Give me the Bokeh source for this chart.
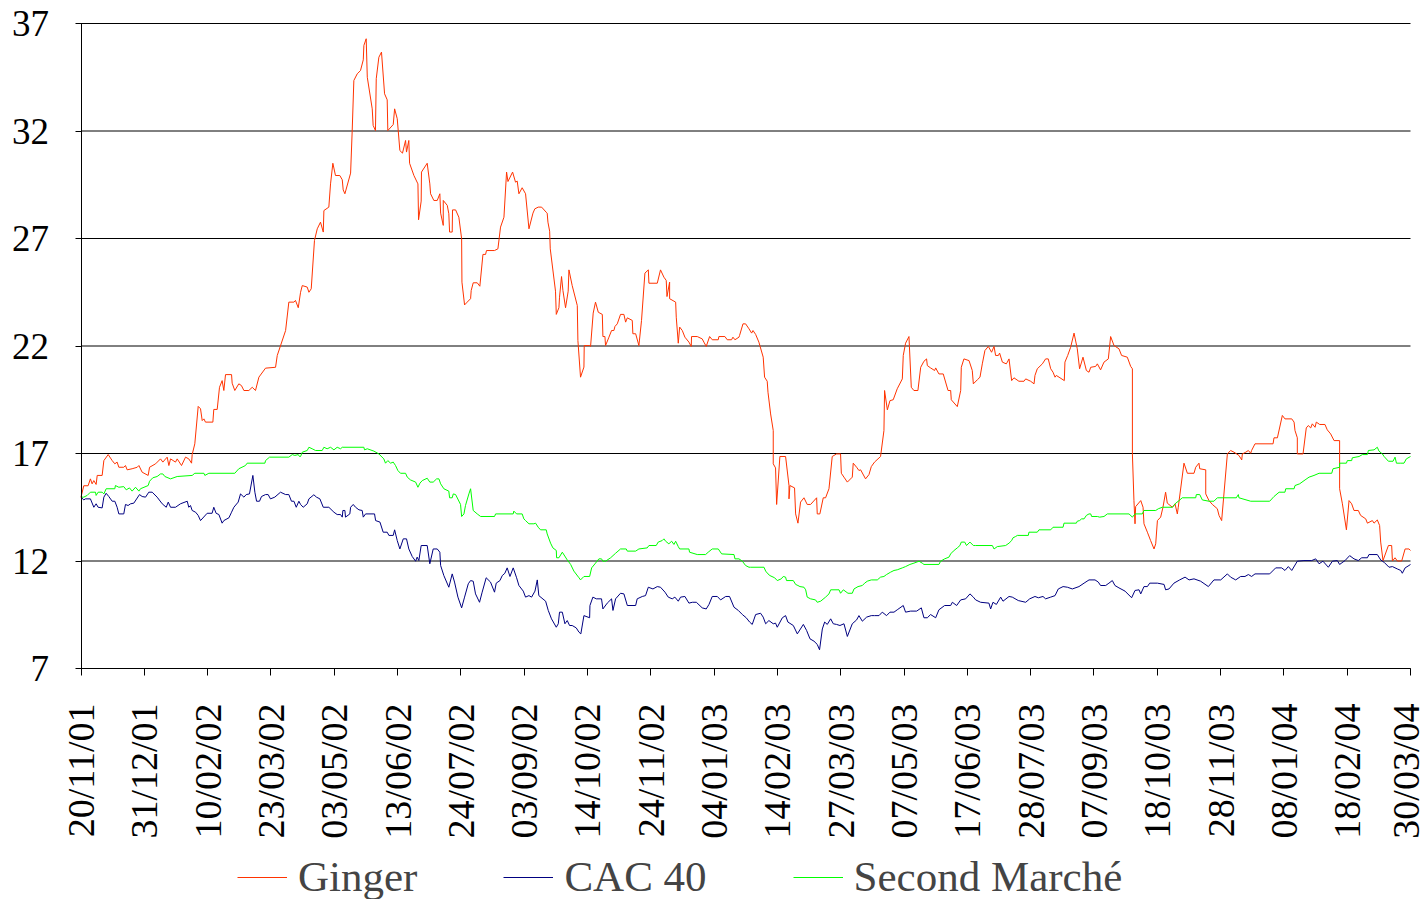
import math
import pandas as pd
from bokeh.plotting import figure
from bokeh.models import (Range1d, FixedTicker, DatetimeTickFormatter, Legend, LegendItem)
from bokeh.embed import file_html
from bokeh.resources import INLINE

# ---------------- data ----------------
tick_labels = ["20/11/01", "31/12/01", "10/02/02", "23/03/02", "03/05/02", "13/06/02",
               "24/07/02", "03/09/02", "14/10/02", "24/11/02", "04/01/03", "14/02/03",
               "27/03/03", "07/05/03", "17/06/03", "28/07/03", "07/09/03", "18/10/03",
               "28/11/03", "08/01/04", "18/02/04", "30/03/04"]
y_ticks = [7, 12, 17, 22, 27, 32, 37]
series_names = ["Ginger", "CAC 40", "Second Marché"]

# days elapsed since 20/11/01, and values
ginger_day = [0, 1.8, 4.6, 6.1, 7.2, 8.3, 9.8, 10.5, 13.7, 14.8, 17.6, 20.2, 21.9, 23.4, 24.5, 27.7,
              28.8, 29.9, 33.1, 36.4, 37.5, 39.6, 43.5, 44.4, 48.3, 51.5, 53.0, 55.8, 56.9, 58.0,
              61.2, 62.3, 65.1, 67.7, 69.8, 71.6, 72.0, 73.7, 75.9, 77.4, 78.5, 79.6, 80.6, 85.4,
              86.0, 88.2, 89.7, 91.4, 92.5, 93.6, 97.5, 97.9, 99.6, 102.2, 103.9, 105.5, 108.7,
              110.9, 113.0, 115.2, 119.5, 126.0, 127.1, 132.5, 134.6, 137.9, 138.9, 140.7,
              142.2, 143.3, 146.5, 147.6, 149.1, 151.2, 153.0, 155.1, 156.9, 157.3, 160.5, 161.6,
              163.1, 164.8, 167.6, 169.2, 169.8, 170.9, 174.6, 175.6, 176.7, 178.9, 181.0, 182.8,
              183.2, 184.7, 185.4, 188.6, 189.2, 190.7, 191.2, 192.9, 194.6, 196.6, 198.3, 198.7,
              202.2, 203.1, 204.8, 206.5, 208.2, 210.2, 210.8, 212.3, 212.8, 215.6, 218.2, 218.6,
              220.3, 220.5, 224.2, 225.9, 226.4, 228.5, 230.7, 232.4, 232.9, 234.6, 234.6, 237.2,
              238.2, 238.7, 240.4, 240.6, 242.6, 244.7, 246.5, 246.7, 248.4, 250.1, 252.3, 252.7,
              254.0, 256.6, 258.3, 260.3, 262.0, 262.6, 267.8, 270.0, 271.7, 273.9, 275.6, 276.5,
              279.5, 281.4, 282.5, 283.6, 285.7, 287.9,
              290.1, 292.7, 293.9, 296.1, 298.3, 301.3, 301.9, 302.4, 303.5, 303.9, 307.3, 307.8,
              309.5, 309.9, 311.2, 312.1, 313.8, 315.5, 316.0, 318.1, 321.4, 321.8, 323.5, 325.7,
              325.9, 329.4, 330.0, 331.7, 333.2, 335.0, 337.6, 338.0, 339.3, 339.7, 341.9, 343.6,
              345.1, 345.8, 347.3, 349.4, 351.6, 352.7, 353.8, 357.0, 357.4, 359.2, 361.3, 363.0,
              365.2, 367.4, 367.8, 373.2, 375.3, 377.5, 379.0, 379.5, 381.2, 381.2, 385.1, 385.5,
              386.8, 387.7, 389.4, 391.1, 393.7, 395.2, 395.4, 399.1, 402.3, 403.4, 404.9, 407.1,
              408.8, 412.7, 413.1, 417.0, 418.5, 421.3, 422.2, 423.5, 426.1, 426.5, 428.7, 430.4,
              432.6, 434.3, 435.2, 436.9, 439.0,
              441.8, 442.7, 444.4, 444.9, 446.6, 448.3, 448.3, 449.8, 450.5, 452.6, 456.3, 458.5,
              458.5, 459.1, 462.1, 462.8, 464.3, 466.0, 468.2, 470.3, 472.5, 476.4, 476.8, 478.5,
              480.7, 482.2, 484.4, 486.5, 489.3, 491.9, 492.4, 494.1, 496.3, 499.5, 500.1, 502.3,
              503.8, 504.9, 508.1, 510.3, 511.8, 513.9, 517.8, 520.0, 520.4, 522.2, 523.9, 526.0,
              528.6, 531.9, 532.5, 534.0, 536.2, 537.7, 539.4, 542.0, 543.8, 545.9, 547.6, 548.1,
              550.2, 552.8, 553.5, 555.6, 558.4, 561.5, 563.2, 563.6, 567.5, 569.7, 570.1, 571.8,
              575.1, 577.2, 577.9, 580.5, 582.2, 583.7,
              585.4, 587.6, 589.7, 591.3, 592.3, 594.1, 594.9, 596.7, 599.2, 599.9, 601.0, 602.7,
              604.2, 607.4, 610.7, 611.8, 615.0, 617.2, 617.8, 619.3, 622.6, 624.7, 626.4, 628.0,
              629.5, 630.8, 631.6, 633.4, 636.8, 637.2, 639.0, 640.9, 643.1, 645.2, 646.7, 648.9,
              651.1, 652.8, 653.9, 657.1, 658.2, 660.3, 662.5, 665.3, 666.8, 669.0, 672.2, 673.9,
              677.6, 679.8, 680.9, 680.9, 681.9, 682.6, 683.0, 686.3, 687.8, 688.4, 690.6, 692.7,
              694.9, 696.0, 697.1, 699.2, 700.7, 702.4, 703.5, 706.8, 708.5, 710.0, 710.6, 714.3,
              716.5, 720.8, 721.9, 724.0, 724.5,
              728.4, 728.4, 730.5, 732.7, 735.9, 737.0, 738.7, 742.4, 744.5, 746.7, 749.9, 751.7,
              752.1, 754.3, 756.0, 757.5, 758.1, 760.3, 772.0, 772.6, 774.8, 778.0, 779.7, 784.1,
              785.6, 786.2, 787.7, 787.7, 791.4, 793.5, 794.8, 796.4, 797.4, 799.2, 800.0, 802.2,
              805.6, 807.1, 809.3, 811.5, 815.1, 815.1, 816.9, 819.5, 821.2, 822.9, 824.4, 827.2,
              828.7, 832.0, 833.1, 836.3, 837.4, 839.5, 841.0, 841.7, 843.2, 846.7, 848.8, 849.3,
              851.0, 852.5, 855.3, 857.5, 860.0, 861.0]
ginger_val = [14.97, 15.5, 15.5, 15.82, 15.59, 15.74, 15.56, 15.98, 15.98, 16.67, 16.95, 16.67, 16.52,
              16.6, 16.36, 16.36, 16.44, 16.24, 16.29, 16.36, 16.44, 16.13, 15.98, 16.36, 16.52,
              16.75, 16.6, 16.83, 16.44, 16.75, 16.6, 16.75, 16.44, 16.83, 16.75, 16.55, 16.95,
              17.45, 19.19, 19.08, 18.53, 18.61, 18.46, 18.46, 19.05, 19.05, 20.08, 20.39, 19.93,
              20.67, 20.67, 20.27, 19.93, 20.24, 20.16, 19.93, 19.93, 20.08, 19.93, 20.55, 20.97,
              21.01, 21.56, 22.72, 24.04, 24.04, 24.12, 23.78,
              24.5, 24.81, 24.74, 24.5, 24.66, 26.91, 27.45, 27.76, 27.3, 28.3, 28.46, 29.54, 30.5,
              29.93, 29.93, 29.73, 29.26, 29.08, 30.04, 31.95, 34.35, 34.66, 34.81, 35.31, 35.98,
              36.29, 34.5, 33.03, 32.26, 32.02, 34.43, 35.43, 35.67, 33.73, 33.45, 32.02, 32.3,
              33.03, 32.57, 31.09, 30.97, 31.56, 31.02, 31.56, 30.5, 29.93, 29.54, 27.87, 28.74,
              30.09, 30.5, 29.54, 29.08, 28.77, 28.77, 29.08, 28.18, 27.61, 28.77, 28.54, 28.15,
              27.3, 27.3, 28.33, 28.33, 27.99, 26.99, 24.97, 23.91, 24.04, 24.2, 24.58, 24.94,
              24.94, 24.78, 26.26, 26.26, 26.44, 26.44, 26.52, 27.53, 27.99, 30.09, 29.65, 30.09,
              29.62, 29.67, 29.08, 29.36, 29.08,
              27.45, 28.18, 28.38, 28.46, 28.46, 28.22, 28.18, 27.76, 27.34, 26.52, 24.55, 23.47,
              23.78, 24.27, 25.23, 24.58, 23.78, 24.55, 25.54, 24.81, 23.88, 22.26, 20.55, 21.02,
              22.02, 22.02, 21.98, 23.53, 24.04, 23.57, 23.47, 22.44, 22.44, 22.02, 22.41, 22.72,
              22.72, 22.91, 23.03, 23.47, 23.47, 23.11, 23.31, 23.19, 22.57, 22.57, 22.02, 23.19,
              25.39, 25.54, 24.92, 24.92, 25.54, 25.2, 25.05, 24.3, 24.97, 24.2, 24.04, 23.34,
              22.13, 22.88, 22.72, 22.41, 22.18, 21.98, 22.44, 22.44, 22.33, 22.18, 21.98, 22.44,
              22.29, 22.29, 22.44, 22.44, 22.29, 22.29, 22.41, 22.29, 22.41, 22.49, 23.03, 23.03,
              22.8, 22.6, 22.72, 22.54, 22.18,
              21.48, 20.55, 20.36, 19.85, 18.84, 18.07, 16.52, 16.33, 14.63, 16.86, 16.86, 15.51,
              14.89, 15.51, 15.4, 14.19, 13.76, 14.74, 14.94, 14.63, 14.63, 14.94, 14.19, 14.19,
              14.94, 14.94, 15.36, 16.86, 16.98, 16.98, 16.08, 15.9, 15.67, 15.9, 16.55, 16.36,
              16.21, 16.24, 15.82, 16.02, 16.39, 16.6, 16.86, 18.07, 19.93, 19.03, 19.46, 19.5,
              20.01, 20.47, 21.56, 22.13, 22.44, 20.08, 19.93, 19.93, 21.01, 21.29, 21.4, 21.09,
              20.98, 20.86, 20.98, 20.7, 20.7, 19.93, 19.93, 19.5, 19.18, 19.93, 21.01, 21.4,
              21.32, 20.86, 20.24, 20.43, 20.55, 21.17,
              21.79, 21.98, 21.71, 21.98, 21.56, 21.56, 21.67, 21.25, 21.17, 21.25, 21.4, 20.39,
              20.52, 20.36, 20.36, 20.47, 20.36, 20.24, 20.63, 20.94, 21.17, 21.4, 21.4, 20.94,
              20.78, 20.55, 20.63, 20.55, 20.39, 21.25, 21.56, 21.94, 22.6, 21.87, 20.94, 21.48,
              20.86, 20.78, 21.01, 21.05, 21.17, 20.89, 21.25, 21.4, 22.44, 22.02, 21.87, 21.56,
              21.48, 21.05, 20.94, 16.98, 14.81, 13.73, 14.53, 14.81, 14.5, 13.73, 13.34, 12.95,
              12.56, 12.8, 13.88, 14.04, 14.5, 15.2, 14.69, 14.5, 14.66, 14.19, 14.5, 16.55,
              16.08, 16.08, 16.36, 16.55, 16.29,
              16.24, 15.12, 14.81, 14.63, 14.43, 14.12, 13.88, 16.98, 17.14, 17.06, 16.91, 16.7,
              16.98, 17.06, 17.14, 17.01, 17.14, 17.45, 17.45, 17.73, 17.73, 18.77, 18.61, 18.61,
              18.46, 18.07, 17.73, 16.98, 16.98, 18.19, 18.3, 18.19, 18.38, 18.22, 18.46, 18.35,
              18.35, 18.1, 17.91, 17.6, 17.6, 15.36, 14.66, 13.45, 14.81, 14.66, 14.35, 14.35,
              14.12, 13.96, 13.76, 13.88, 13.76, 13.91, 13.65, 12.88, 12.02, 12.72, 12.72, 12.0,
              12.15, 12.0, 12.0, 12.56, 12.56, 12.49]

cac_day = [0, 1.8, 2.9, 6.1, 8.3, 9.8, 11.1, 13.7, 14.8, 16.3, 18.0, 20.2, 21.9, 23.4, 24.5, 27.7,
           28.8, 30.5, 32.1, 34.2, 37.9, 39.6, 41.8, 43.9, 46.1, 49.3, 52.6, 55.2, 56.5, 58.0,
           61.2, 64.4, 68.8, 69.8, 70.9, 72.0, 74.2, 75.9, 77.4, 81.7, 84.9, 86.0, 87.5, 89.3,
           91.4, 92.5, 95.8, 97.5, 99.0, 101.8, 103.3, 105.5, 107.0, 109.1, 111.3, 112.6, 113.7,
           115.6, 116.9, 119.5, 121.2, 122.7, 125.5, 129.2, 132.5, 134.6, 136.3, 137.9, 139.4,
           141.1,
           142.2, 143.9, 146.5, 147.6, 150.8, 152.5, 154.7, 156.9, 160.5, 163.8, 165.9, 168.1,
           169.2, 169.6, 170.9, 171.3, 174.1, 174.6, 176.3, 177.8, 180.0, 182.1, 182.8, 184.3,
           190.1, 190.8, 193.6, 195.7, 198.3, 199.4, 202.2, 203.1, 204.8, 206.5, 208.7, 210.8,
           212.3, 214.5, 216.7, 217.7, 218.8, 220.3, 224.2, 225.9, 228.1, 230.7, 232.4, 232.9,
           235.0, 238.2, 240.4, 241.9, 244.1, 246.5, 248.4, 250.8, 252.3, 254.0, 255.5, 258.1,
           259.8, 262.4, 265.2, 267.8, 268.9, 271.3, 272.8, 274.5, 276.0, 277.8, 279.9, 282.1,
           283.6, 286.4,
           287.9, 290.1, 291.8, 294.0, 295.5, 296.5, 300.9, 302.6, 304.7, 307.8, 309.1, 309.9,
           311.7, 313.4, 314.9, 316.4, 318.1, 320.7, 322.5, 323.7, 325.7, 329.4, 329.6, 331.5,
           333.7, 337.1, 338.0, 340.8, 343.6, 344.5, 346.2, 349.4, 351.6, 353.8, 359.2, 360.2,
           363.5, 365.6, 367.4, 370.4, 373.2, 375.3, 378.2, 380.3, 382.9, 384.6, 386.8, 388.3,
           391.1, 393.7, 395.9, 398.5, 402.3, 404.9, 406.7, 408.8, 412.1, 414.2, 417.5, 420.0,
           422.9, 425.7, 428.3, 430.8, 433.0, 434.7,
           436.9, 440.1, 441.8, 443.4, 445.5, 448.3, 449.8, 450.9, 454.2, 456.3, 457.8, 461.3,
           463.9, 467.8, 469.9, 472.1, 474.7, 476.8, 478.3, 480.1, 481.6, 483.3, 485.5, 487.2,
           489.3, 491.5, 494.1, 496.3, 499.5, 502.3, 503.8, 506.0, 508.8, 511.8, 513.9, 516.8,
           518.9, 521.7, 523.9, 526.5, 528.6, 532.5, 534.0, 537.3, 541.2, 544.2, 545.9, 548.1,
           550.2, 553.5, 555.6, 559.3, 563.2, 564.3, 567.1, 569.7, 572.9, 575.7, 577.9,
           579.4, 582.6, 588.0, 589.1, 590.6, 592.8, 595.6, 597.1, 601.0, 603.1, 607.0, 611.8,
           614.4, 617.8, 620.0, 623.0, 624.7, 628.0, 630.8, 632.9, 636.0, 638.8, 642.0, 646.3,
           649.6, 652.8, 656.7, 658.8, 660.3, 663.6, 665.7, 667.9, 669.6, 672.2, 676.1, 680.4,
           682.6, 685.2, 686.3, 688.4, 690.6, 692.1, 697.1, 701.4, 702.4, 704.6, 707.8, 711.5,
           715.0, 717.6, 720.8,
           725.1, 730.1, 733.7, 738.1, 742.4, 744.5, 747.8, 751.0, 753.8, 756.0, 758.1, 760.3,
           769.8, 773.7, 777.6, 779.7, 781.9, 784.1, 787.7, 792.0, 797.0, 799.6, 801.8, 804.3,
           807.8, 810.4, 813.6, 815.1, 818.6, 821.6, 824.4, 827.2, 829.4, 833.1, 834.1, 839.5,
           841.7, 843.9, 847.1, 849.3, 852.5, 854.7, 855.7, 857.5, 860.0, 861.0]
cac_val = [14.97, 14.84, 14.89, 14.89, 14.5, 14.66, 14.5, 14.47, 14.97, 15.15, 15.0, 14.78, 14.78,
           14.5, 14.19, 14.19, 14.63, 14.58, 14.66, 14.69, 15.09, 15.0, 14.97, 15.2, 15.2, 14.97,
           14.66, 14.5, 14.74, 14.5, 14.5, 14.66, 14.78, 14.5, 14.58, 14.35, 14.27, 14.12, 13.88,
           14.22, 14.22, 14.5, 14.22, 14.16, 13.76, 13.88, 14.01, 14.27, 14.5, 14.74, 15.12,
           14.97, 15.09, 15.12, 15.98, 15.2, 14.78, 14.78, 15.0, 15.09, 15.09, 14.89, 14.97,
           15.2, 15.09, 15.09, 14.78, 14.78, 14.5, 14.78,
           14.63, 14.5, 14.66, 14.89, 15.08, 14.97, 14.89, 14.5, 14.5, 14.27, 14.16, 14.16,
           14.04, 14.35, 14.35, 14.04, 14.19, 14.5, 14.63, 14.5, 14.38, 14.35, 14.04, 14.19,
           14.19, 13.88, 13.81, 13.34, 13.34, 13.19, 13.19, 13.45, 12.95, 12.56, 13.03, 13.03,
           12.56, 12.21, 11.99, 12.18, 12.02, 12.72, 12.72, 11.87, 12.56, 12.56, 12.41, 11.79,
           11.32, 10.78, 11.4, 11.02, 10.32, 9.82, 10.32, 10.94, 11.09, 11.06, 10.47, 10.08,
           10.55, 11.22, 11.02, 10.55, 10.97, 11.09, 11.32, 11.43, 11.68, 11.28, 11.68, 11.22,
           10.86, 10.6,
           10.32, 10.39, 10.32, 10.6, 11.12, 10.39, 10.13, 9.7, 9.31, 8.92, 9.08, 9.62, 9.62,
           9.08, 9.23, 9.0, 9.0, 8.89, 8.69, 8.61, 9.46, 9.36, 9.93, 10.32, 10.24, 10.24, 9.77,
           10.04, 10.24, 9.7, 10.24, 10.5, 10.47, 9.93, 9.93, 10.24, 10.35, 10.39, 10.78, 10.7,
           10.81, 10.78, 10.55, 10.32, 10.24, 10.32, 10.13, 10.32, 10.35, 10.04, 10.08, 10.08,
           9.82, 9.77, 9.98, 10.35, 10.35, 10.19, 10.35, 10.35, 9.85, 9.7, 9.51, 9.36, 9.16,
           9.05,
           9.51, 9.57, 9.39, 9.08, 9.23, 9.08, 9.11, 8.92, 9.36, 9.46, 9.16, 9.0, 8.61, 9.05,
           8.77, 8.38, 8.27, 8.12, 7.87, 8.84, 9.16, 9.05, 9.31, 9.08, 9.05, 9.0, 9.08, 8.49,
           9.08, 9.26, 9.46, 9.2, 9.39, 9.46, 9.46, 9.46, 9.62, 9.46, 9.62, 9.62, 9.73, 9.93,
           9.62, 9.67, 9.67, 9.82, 9.36, 9.36, 9.51, 9.36, 9.73, 9.93, 9.93, 10.08, 9.93,
           10.19, 10.24, 10.47, 10.32,
           10.19, 10.08, 10.04, 9.77, 10.08, 9.98, 10.32, 10.13, 10.35, 10.32, 10.16, 10.08,
           10.24, 10.35, 10.29, 10.35, 10.24, 10.32, 10.39, 10.7, 10.81, 10.78, 10.7, 10.81,
           10.97, 11.12, 11.12, 11.02, 10.86, 10.86, 10.97, 11.09, 10.86, 10.75, 10.6, 10.29,
           10.63, 10.66, 10.47, 10.81, 10.81, 10.97, 10.97, 10.91, 10.66, 10.7, 10.97, 11.12,
           11.25, 11.12, 11.17,
           11.06, 10.81, 11.12, 11.12, 11.4, 11.25, 11.12, 11.28, 11.28, 11.37, 11.28, 11.4,
           11.4, 11.68, 11.68, 11.56, 11.74, 11.56, 11.99, 12.02, 12.02, 12.1, 11.87, 11.99,
           11.71, 11.99, 12.02, 11.84, 12.02, 12.25, 12.1, 12.02, 12.15, 12.15, 12.3, 12.3,
           12.05, 11.94, 11.71, 11.74, 11.63, 11.56, 11.43, 11.68, 11.79, 11.84]

sm_day = [0, 1.8, 4.0, 6.1, 9.4, 9.8, 11.1, 13.7, 14.8, 16.3, 21.9, 22.3, 24.5, 27.7, 29.3, 31.4,
          33.1, 35.3, 37.5, 38.5, 43.5, 44.4, 46.5, 49.3, 51.5, 53.0, 54.3, 58.0, 62.3, 72.0,
          73.7, 79.6, 80.2, 82.8, 99.6, 102.2, 106.5, 107.6, 119.1, 119.5, 122.1, 134.6, 136.8,
          138.5, 140.7, 141.5,
          142.2, 143.3, 146.5, 147.6, 149.7, 151.9, 156.2, 157.3, 159.4, 161.6, 163.8, 165.9,
          168.1, 169.2, 183.2, 183.6, 185.4, 189.7, 192.9, 196.1, 197.2, 198.7, 200.5, 202.2,
          203.7, 205.2, 206.9, 210.2, 211.3, 213.4, 216.7, 218.2, 219.5, 221.0, 224.2, 225.9,
          228.1, 230.3, 231.8, 232.9, 235.0, 238.2, 238.7, 240.4, 241.1, 242.6, 245.8, 246.5,
          248.0, 249.0, 251.2, 252.3, 254.0, 256.6, 258.8, 267.8, 268.5, 279.9, 280.3, 282.1,
          285.7, 286.8,
          287.9, 290.1, 293.3, 294.4, 296.1, 297.6, 301.3, 301.9, 304.1, 305.6, 307.8, 308.0,
          309.5, 311.7, 314.9, 317.1, 319.2, 322.5, 323.5, 325.7, 329.4, 330.7, 333.2, 335.4,
          337.1, 338.0, 339.7, 343.0, 346.2, 349.4, 353.1, 353.8, 359.2, 361.3, 366.7, 367.8,
          372.5, 373.8, 376.4, 377.5, 378.6, 380.7, 382.5, 384.0, 385.1, 386.8, 387.7, 393.7,
          394.1, 399.1, 404.5, 406.2, 408.8, 412.7, 414.9, 422.9, 423.5, 426.1, 428.3, 430.4,
          432.6,
          433.6, 442.3, 443.4, 444.9, 446.2, 449.2, 450.9, 453.5, 454.8, 456.3, 456.9, 461.3,
          462.8, 464.3, 465.6, 468.2, 469.3, 470.3, 472.5, 475.7, 476.8, 479.0, 482.2, 484.4,
          485.5, 490.9, 491.9, 493.7, 496.7, 499.5, 500.6, 503.2, 506.0, 507.5, 509.2, 511.8,
          515.7, 517.8, 520.0, 521.7, 524.3, 526.5, 528.6, 531.9, 534.0, 536.8, 539.4, 542.7,
          544.8, 545.9, 555.6, 556.7, 559.3, 562.1, 563.2, 564.9, 567.5, 569.2, 570.1, 572.3,
          573.5, 575.7, 577.9,
          579.4, 590.2, 591.3, 593.4, 598.8, 601.0, 602.7, 603.6, 605.3, 606.4, 613.5, 613.9,
          619.3, 620.4, 628.0, 629.5, 636.0, 636.6, 644.6, 645.2, 646.7, 648.0, 649.6, 651.1,
          652.8, 653.9, 654.5, 658.2, 659.7, 662.5, 664.7, 678.7, 680.9, 682.6, 687.3, 688.4,
          696.0, 697.7, 700.3, 706.8, 709.0, 711.1, 713.2, 721.9, 722.3, 724.5, 726.2, 730.5,
          733.7, 735.9, 748.2, 749.5, 749.9, 757.5, 769.8, 772.6, 775.9, 779.7, 780.2, 785.6,
          786.2, 789.2, 792.7, 795.3, 798.5, 801.8, 810.0, 810.8, 815.1, 815.1, 819.5, 820.1,
          822.9, 823.3, 827.7, 829.8, 833.1, 833.7, 837.4, 839.5, 840.6, 842.8, 843.9, 846.7,
          849.7, 851.0, 851.9, 854.7, 856.8, 858.3, 861.0]
sm_val = [14.97, 14.97, 15.05, 15.2, 15.2, 15.05, 15.2, 15.2, 15.12, 15.36, 15.36, 15.51, 15.43,
          15.46, 15.31, 15.4, 15.25, 15.43, 15.25, 15.36, 15.51, 15.71, 15.87, 15.93, 16.05,
          16.05, 15.93, 15.82, 15.93, 15.98, 16.08, 16.08, 15.98, 16.08, 16.08, 16.29, 16.44,
          16.55, 16.55, 16.67, 16.83, 16.83, 16.95, 16.91, 16.95, 16.86,
          16.86, 17.06, 17.14, 17.29, 17.22, 17.14, 17.14, 17.29, 17.22, 17.29, 17.17, 17.29,
          17.22, 17.29, 17.29, 17.17, 17.22, 17.11, 16.98, 16.75, 16.55, 16.67, 16.55, 16.6,
          16.44, 16.21, 16.08, 16.08, 15.9, 15.77, 15.67, 15.43, 15.62, 15.74, 15.85, 15.67,
          15.67, 15.82, 15.82, 15.59, 15.36, 15.25, 14.94, 14.94, 15.12, 15.09, 14.63, 14.07,
          14.19, 14.58, 15.12, 15.36, 14.35, 14.19, 14.07, 14.07, 14.19, 14.19, 14.32, 14.19,
          14.19, 13.96,
          13.88, 13.73, 13.73, 13.76, 13.57, 13.45, 13.45, 13.26, 12.83, 12.61, 12.49, 12.15,
          12.15, 12.41, 12.05, 11.84, 11.53, 11.22, 11.12, 11.28, 11.28, 11.68, 11.9, 12.1,
          12.1, 11.99, 11.99, 12.15, 12.36, 12.56, 12.56, 12.46, 12.46, 12.56, 12.61, 12.72,
          12.72, 12.88, 12.95, 13.03, 12.92, 12.8, 12.92, 12.77, 12.92, 12.67, 12.56, 12.56,
          12.41, 12.3, 12.3, 12.41, 12.56, 12.56, 12.33, 12.3, 12.1, 12.1, 11.99, 11.79,
          11.71,
          11.71, 11.71, 11.53, 11.4, 11.32, 11.22, 11.09, 11.17, 11.28, 11.25, 11.09, 11.09,
          10.91, 10.86, 10.81, 10.78, 10.66, 10.32, 10.24, 10.19, 10.08, 10.13, 10.32, 10.47,
          10.66, 10.66, 10.5, 10.66, 10.5, 10.5, 10.7, 10.81, 10.86, 10.97, 11.06, 11.12,
          11.12, 11.25, 11.28, 11.37, 11.48, 11.56, 11.59, 11.68, 11.74, 11.84, 11.9, 11.99,
          11.9, 11.84, 11.84, 11.99, 12.1, 12.18, 12.33, 12.46, 12.61, 12.72, 12.88, 12.88,
          12.72, 12.88, 12.72,
          12.72, 12.72, 12.56, 12.67, 12.72, 12.83, 12.95, 13.08, 13.14, 13.19, 13.19, 13.34,
          13.34, 13.45, 13.45, 13.57, 13.57, 13.76, 13.76, 13.85, 13.88, 13.96, 13.96, 14.12,
          14.19, 14.19, 14.07, 14.07, 14.04, 14.07, 14.19, 14.19, 14.04, 14.19, 14.19, 14.35,
          14.35, 14.43, 14.5, 14.5, 14.69, 14.81, 14.94, 14.94, 15.09, 15.09, 14.84, 14.78,
          14.78, 14.94, 14.94, 15.09, 14.94, 14.78, 14.78, 15.0, 15.2, 15.2, 15.36, 15.36,
          15.51, 15.59, 15.77, 15.9, 15.98, 16.08, 16.08, 16.29, 16.36, 16.55, 16.55, 16.67,
          16.67, 16.8, 16.86, 16.95, 16.95, 17.14, 17.17, 17.29, 17.11, 16.98, 16.86, 16.64,
          16.64, 16.83, 16.55, 16.55, 16.55, 16.75, 16.86]

colors = ["#FF3300", "#000080", "#00FF00"]

# ---------------- helpers ----------------
def parse(lbl):
    return pd.to_datetime(lbl, format="%d/%m/%y")

start = parse(tick_labels[0])
end = parse(tick_labels[-1])
start_ms = start.value / 1e6
end_ms = end.value / 1e6

def to_dates(days):
    return start + pd.to_timedelta(days, unit="D")

FONT = "Liberation Serif"

# layout (pixels): the frame covers the whole 1426x899 canvas; the data area runs
# from x=80.5 to 1410 and from y=23 (37) to 668 (7); axes are pinned inside it.
W, H = 1426, 899
LEFT_PX, RIGHT_PX, TOP_PX, BOTTOM_PX = 80.5, 1410.0, 23.0, 668.0
n_days = (end - start).days
ppd = (RIGHT_PX - LEFT_PX) / n_days
ppu = (BOTTOM_PX - TOP_PX) / (y_ticks[-1] - y_ticks[0])
x_lo = start - pd.Timedelta(days=LEFT_PX / ppd)
x_hi = end + pd.Timedelta(days=(W - RIGHT_PX) / ppd)
y_lo = y_ticks[0] - (H - BOTTOM_PX) / ppu
y_hi = y_ticks[-1] + TOP_PX / ppu

p = figure(x_axis_type="datetime", frame_width=W, frame_height=H,
           min_border_left=0, min_border_right=0, min_border_top=0, min_border_bottom=0,
           toolbar_location=None, output_backend="svg",
           x_range=Range1d(x_lo, x_hi), y_range=Range1d(y_lo, y_hi))
p.outline_line_color = None
p.background_fill_color = "white"
p.border_fill_color = "white"

# horizontal grid lines spanning the data area only
p.segment(x0=[start] * len(y_ticks), y0=y_ticks, x1=[end] * len(y_ticks), y1=y_ticks,
          line_color="black", line_width=1)

renderers = []
for d, v, c in [(ginger_day, ginger_val, colors[0]), (cac_day, cac_val, colors[1]),
                (sm_day, sm_val, colors[2])]:
    r = p.line(to_dates(d), v, line_color=c, line_width=1)
    renderers.append(r)

# x axis pinned at the bottom value
tick_ms = [parse(t).value / 1e6 for t in tick_labels]
p.xaxis.fixed_location = y_ticks[0]
p.xaxis.bounds = (start_ms, end_ms)
p.xaxis.ticker = FixedTicker(ticks=tick_ms)
fmt = "%d/%m/%y"
p.xaxis.formatter = DatetimeTickFormatter(milliseconds=fmt, seconds=fmt, minsec=fmt, minutes=fmt,
                                          hourmin=fmt, hours=fmt, days=fmt, months=fmt, years=fmt)
p.xaxis.major_label_orientation = math.pi / 2
p.xaxis.major_label_text_font = FONT
p.xaxis.major_label_text_font_size = "38px"
p.xaxis.major_label_text_color = "black"
p.xaxis.major_tick_out = 7
p.xaxis.major_tick_in = 0
p.xaxis.minor_tick_line_color = None
p.xaxis.axis_line_color = "black"
p.xaxis.major_tick_line_color = "black"
p.xaxis.major_label_standoff = 28

# y axis pinned at the first date
p.yaxis.fixed_location = start_ms
p.yaxis.ticker = FixedTicker(ticks=y_ticks)
p.yaxis.bounds = (y_ticks[0], y_ticks[-1])
p.yaxis.major_label_text_font = FONT
p.yaxis.major_label_text_font_size = "37px"
p.yaxis.major_label_text_color = "black"
p.yaxis.major_tick_out = 6
p.yaxis.major_tick_in = 0
p.yaxis.minor_tick_line_color = None
p.yaxis.axis_line_color = "black"
p.yaxis.major_tick_line_color = "black"
p.yaxis.major_label_standoff = 26

p.xgrid.grid_line_color = None
p.ygrid.grid_line_color = None

legend = Legend(items=[LegendItem(label=n, renderers=[r]) for n, r in zip(series_names, renderers)],
                orientation="horizontal", location=(237, -2),
                label_text_font=FONT, label_text_font_size="43px",
                glyph_width=50, label_standoff=11, spacing=86,
                border_line_color=None, background_fill_alpha=0,
                padding=0, margin=0)
p.add_layout(legend, "center")

open("out.html", "w").write(file_html(p, INLINE))
